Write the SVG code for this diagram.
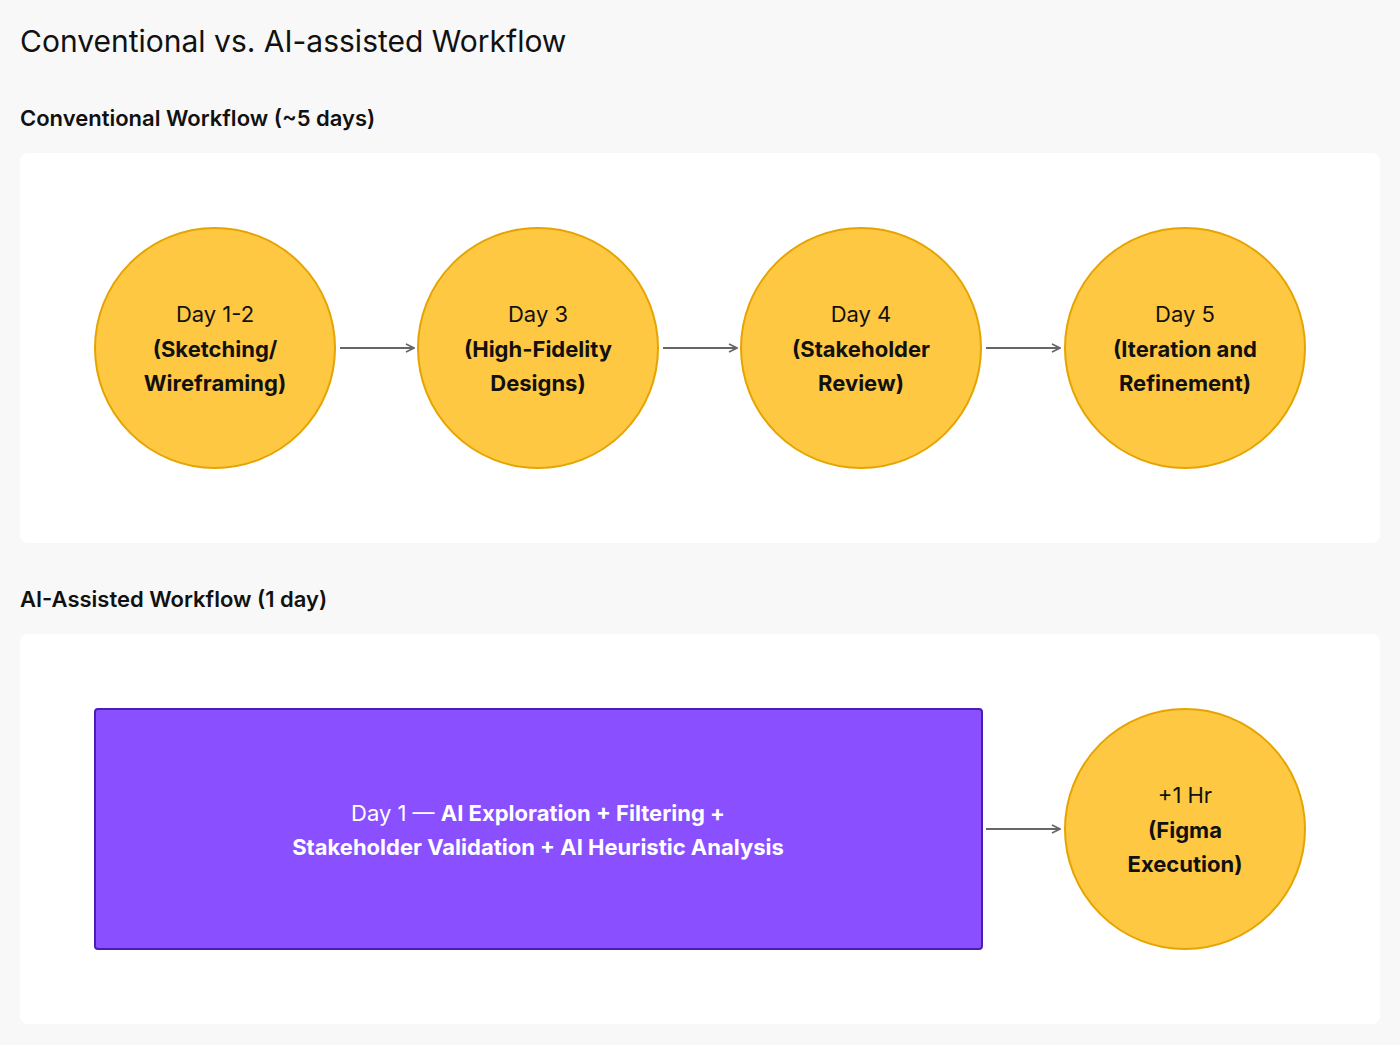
<svg xmlns="http://www.w3.org/2000/svg" width="1400" height="1045" viewBox="0 0 1400 1045">
<style>
text{font-family:Inter,"Liberation Sans",sans-serif;fill:#111}
.h{font-size:22px;font-weight:600}
.c{fill:#FFC843;stroke:#E5A400;stroke-width:2}
.t{font-size:22px;text-anchor:middle}
.b{font-weight:700}
.w{fill:#fff}
.a{stroke:#666;stroke-width:2;fill:none}
</style>
<defs><marker id="m" viewBox="0 0 10 10" refX="9" refY="5" markerWidth="10" markerHeight="10" markerUnits="userSpaceOnUse" orient="auto"><path d="M1,1 L9,5 L1,9" fill="none" stroke="#666" stroke-width="1.6"/></marker></defs>
<rect width="1400" height="1045" fill="#f8f8f8"/>
<text x="20" y="52" font-size="30">Conventional vs. AI-assisted Workflow</text>
<text class="h" x="20" y="126">Conventional Workflow (~5 days)</text>
<rect x="20" y="153" width="1360" height="390" rx="8" fill="#fff"/>
<text class="h" x="20" y="607">AI-Assisted Workflow (1 day)</text>
<rect x="20" y="634" width="1360" height="390" rx="8" fill="#fff"/>
<g id="connectors">
<path class="a" d="M340,348 H414" marker-end="url(#m)"/>
<path class="a" d="M663,348 H737" marker-end="url(#m)"/>
<path class="a" d="M986,348 H1060" marker-end="url(#m)"/>
<path class="a" d="M986,829 H1060" marker-end="url(#m)"/>
</g>
<g id="n1"><circle class="c" cx="215" cy="348" r="120"/><text class="t" x="215" y="322">Day 1-2</text><text class="t b" x="215" y="357">(Sketching/</text><text class="t b" x="215" y="391">Wireframing)</text></g>
<g id="n2"><circle class="c" cx="538" cy="348" r="120"/><text class="t" x="538" y="322">Day 3</text><text class="t b" x="538" y="357">(High-Fidelity</text><text class="t b" x="538" y="391">Designs)</text></g>
<g id="n3"><circle class="c" cx="861" cy="348" r="120"/><text class="t" x="861" y="322">Day 4</text><text class="t b" x="861" y="357">(Stakeholder</text><text class="t b" x="861" y="391">Review)</text></g>
<g id="n4"><circle class="c" cx="1185" cy="348" r="120"/><text class="t" x="1185" y="322">Day 5</text><text class="t b" x="1185" y="357">(Iteration and</text><text class="t b" x="1185" y="391">Refinement)</text></g>
<g id="n5"><rect x="95" y="709" width="887" height="240" rx="3" fill="#8A50FF" stroke="#4A1DB5" stroke-width="2"/>
<text class="t w" x="538" y="821"><tspan class="w">Day 1 — </tspan><tspan class="b w">AI Exploration + Filtering +</tspan></text>
<text class="t b w" x="538" y="855">Stakeholder Validation + AI Heuristic Analysis</text></g>
<g id="n6"><circle class="c" cx="1185" cy="829" r="120"/><text class="t" x="1185" y="803">+1 Hr</text><text class="t b" x="1185" y="838">(Figma</text><text class="t b" x="1185" y="872">Execution)</text></g>
</svg>
